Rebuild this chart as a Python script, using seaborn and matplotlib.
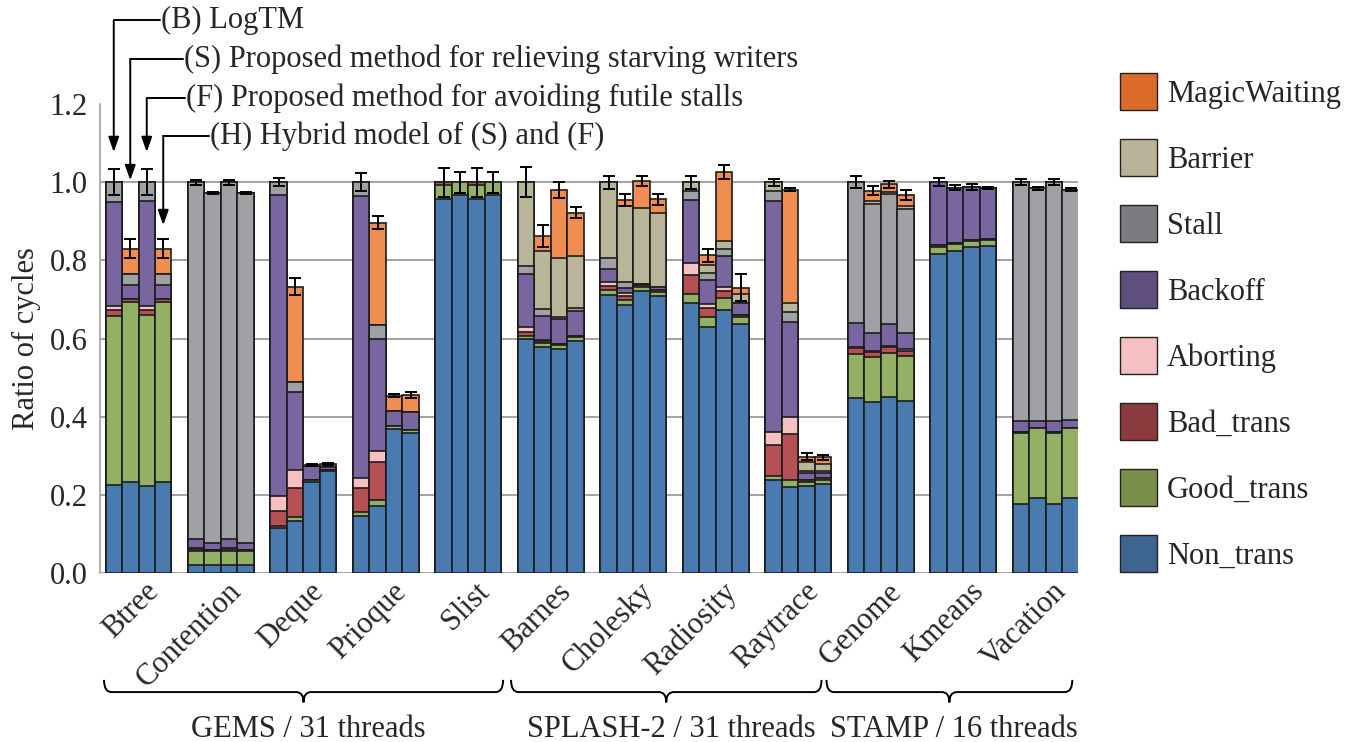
import seaborn as sns
import matplotlib.pyplot as plt
import matplotlib.transforms as mtransforms
from matplotlib.path import Path
from matplotlib.patches import PathPatch, Patch
import pandas as pd

# four bars per benchmark: (B) LogTM, (S), (F), (H)
benchmarks = ["Btree", "Contention", "Deque", "Prioque", "Slist",
              "Barnes", "Cholesky", "Radiosity", "Raytrace",
              "Genome", "Kmeans", "Vacation"]
suites = ["GEMS / 31 threads", "SPLASH-2 / 31 threads", "STAMP / 16 threads"]

non_trans = [
    .226, .232, .223, .232,   # Btree
    .021, .021, .021, .021,   # Contention
    .115, .134, .234, .260,   # Deque
    .147, .172, .368, .359,   # Prioque
    .957, .967, .957, .967,   # Slist
    .599, .579, .573, .594,   # Barnes
    .711, .687, .721, .709,   # Cholesky
    .692, .630, .673, .637,   # Radiosity
    .237, .221, .223, .227,   # Raytrace
    .447, .437, .450, .441,   # Genome
    .816, .825, .833, .837,   # Kmeans
    .177, .192, .177, .193,   # Vacation
]
good_trans = [
    .432, .462, .436, .462,
    .034, .034, .034, .034,
    .006, .009, .004, .004,
    .009, .015, .008, .007,
    .035, .033, .035, .033,
    .007, .009, .010, .009,
    .012, .011, .012, .011,
    .021, .026, .030, .019,
    .012, .017, .011, .012,
    .113, .115, .114, .113,
    .017, .017, .017, .016,
    .181, .179, .181, .178,
]
bad_trans = [
    .015, .006, .014, .006,
    .006, .003, .006, .003,
    .038, .074, 0, 0,
    .061, .098, 0, 0,
    .008, 0, .008, 0,
    .010, .005, .002, .003,
    .011, .012, .003, .004,
    .049, .021, .018, .003,
    .079, .118, .003, .003,
    .015, .014, .014, .015,
    .006, .002, .002, .002,
    .002, 0, .002, 0,
]
aborting = [
    .011, 0, .011, 0,
    .003, 0, .003, 0,
    .039, .047, 0, 0,
    .026, .028, 0, 0,
    0, 0, 0, 0,
    .014, .003, 0, 0,
    .010, .006, 0, 0,
    .030, .011, .010, 0,
    .032, .043, 0, 0,
    .004, .003, .004, .003,
    0, 0, 0, 0,
    0, 0, 0, 0,
]
backoff = [
    .266, .038, .267, .038,
    .024, .019, .024, .019,
    .769, .199, .035, .008,
    .721, .286, .038, .047,
    0, 0, 0, 0,
    .134, .062, .065, .064,
    .033, .012, .003, .007,
    .162, .062, .081, .031,
    .592, .242, .020, .014,
    .060, .044, .054, .043,
    .161, .142, .136, .130,
    .030, .019, .030, .021,
]
stall = [
    .050, .028, .049, .028,
    .912, .896, .912, .896,
    .033, .026, 0, 0,
    .036, .036, 0, 0,
    0, 0, 0, 0,
    .021, .017, .006, .009,
    .030, .017, 0, 0,
    .023, .017, .017, .002,
    .026, .028, .003, .004,
    .361, .332, .333, .316,
    0, 0, 0, 0,
    .610, .594, .610, .589,
]
barrier = [
    0, 0, 0, 0,
    0, 0, 0, 0,
    0, 0, 0, 0,
    0, 0, 0, 0,
    0, 0, 0, 0,
    .215, .149, .151, .132,
    .193, .194, .194, .189,
    .023, .021, .021, .021,
    .022, .021, .025, .019,
    0, .007, .005, .008,
    0, 0, 0, 0,
    0, 0, 0, 0,
]
magic_waiting = [
    0, .064, 0, .064,
    0, 0, 0, 0,
    0, .244, .003, .007,
    0, .261, .040, .043,
    0, 0, 0, 0,
    0, .038, .173, .111,
    0, .015, .070, .036,
    0, .025, .176, .017,
    0, .291, .013, .017,
    0, .026, .021, .029,
    0, 0, 0, 0,
    0, 0, 0, 0,
]
errors = [
    .033, .024, .033, .024,
    .006, .003, .006, .003,
    .010, .021, .002, .003,
    .023, .017, .004, .007,
    .037, .027, .037, .027,
    .039, .029, .020, .014,
    .017, .015, .013, .014,
    .017, .017, .018, .035,
    .009, .003, .009, .006,
    .015, .012, .009, .013,
    .011, .007, .007, .003,
    .008, .003, .008, .003,
]

layers = ["Non_trans", "Good_trans", "Bad_trans", "Aborting",
          "Backoff", "Stall", "Barrier", "MagicWaiting"]
layer_values = [non_trans, good_trans, bad_trans, aborting,
                backoff, stall, barrier, magic_waiting]
bar_colors = ["#4a7bb0", "#93b065", "#b75054", "#f7c1c1",
              "#7965a0", "#a0a1a4", "#b9b598", "#ef8e50"]
legend_colors = ["#3e6590", "#7a8f4a", "#8b3a3e", "#f6bfc2",
                 "#5f4f7c", "#7a7c80", "#b8b398", "#dc6b2a"]

pos = [g * 5 + b for g in range(len(benchmarks)) for b in range(4)]
df = pd.DataFrame({"pos": pos})
for name, vals in zip(layers, layer_values):
    df[name] = vals
cum = df[layers].cumsum(axis=1)
df["err"] = errors

sns.set_style("white")
plt.rcParams["font.family"] = ["Liberation Serif", "DejaVu Serif"]
FS = 22

fig = plt.figure(figsize=(13.54, 7.42), dpi=100)
ax = fig.add_axes([0.0739, 0.2278, 0.7222, 0.632])

# stacked bars: draw cumulative tops from highest layer down
for name, col in reversed(list(zip(layers, bar_colors))):
    sns.barplot(x=df["pos"], y=cum[name], native_scale=True, width=1.0,
                color=col, saturation=1, edgecolor="#1c1c1c", linewidth=1.2,
                errorbar=None, ax=ax)

ax.errorbar(df["pos"], cum["MagicWaiting"], yerr=df["err"], fmt="none",
            ecolor="black", elinewidth=1.4, capsize=4.5, capthick=1.4, zorder=5)

ax.set_axisbelow(True)
ax.set_ylim(0, 1.2)
ax.set_xlim(-0.83, 58.44)
ax.set_yticks([0, 0.2, 0.4, 0.6, 0.8, 1.0, 1.2])
ax.set_yticklabels(["0.0", "0.2", "0.4", "0.6", "0.8", "1.0", "1.2"], fontsize=FS)
ax.yaxis.grid(True, color="#a3a3a3", linewidth=1.4)
ax.yaxis.get_gridlines()[-1].set_visible(False)
ax.tick_params(axis="y", length=6, width=1.0, color="#888888", pad=3)
ax.set_ylabel("Ratio of cycles", fontsize=FS, labelpad=6)
ax.set_xlabel("")
for s in ["top", "right", "bottom"]:
    ax.spines[s].set_visible(False)
ax.spines["left"].set_color("#a3a3a3")
ax.spines["left"].set_linewidth(1.2)

centers = [g * 5 + 1.5 + 0.35 for g in range(len(benchmarks))]
ax.set_xticks(centers)
ax.set_xticklabels(benchmarks, rotation=45, ha="right", va="top",
                   rotation_mode="anchor", fontsize=FS)
ax.tick_params(axis="x", length=0, pad=3)

# curly braces for the benchmark suites
trans = mtransforms.blended_transform_factory(ax.transData, ax.transAxes)
brace_spans = [(-0.59, 23.6), (24.08, 42.9), (43.2, 58.1)]
y_top, y_mid, y_tip = -0.228, -0.254, -0.276
r = 0.45
for (x0, x1), txt in zip(brace_spans, suites):
    xc = (x0 + x1) / 2
    verts = [(x0, y_top), (x0, y_mid), (x0 + r, y_mid),
             (xc - r, y_mid),
             (xc, y_mid), (xc, y_tip),
             (xc, y_mid), (xc + r, y_mid),
             (x1 - r, y_mid),
             (x1, y_mid), (x1, y_top)]
    codes = [Path.MOVETO, Path.CURVE3, Path.CURVE3,
             Path.LINETO,
             Path.CURVE3, Path.CURVE3,
             Path.CURVE3, Path.CURVE3,
             Path.LINETO,
             Path.CURVE3, Path.CURVE3]
    ax.add_patch(PathPatch(Path(verts, codes), transform=trans, fill=False,
                           lw=1.4, edgecolor="black", clip_on=False))
    ax.text(xc + 0.3, -0.333, txt, transform=trans, ha="center", va="center",
            fontsize=FS)

# annotations for the four configurations
notes = ["(B) LogTM",
         "(S) Proposed method for relieving starving writers",
         "(F) Proposed method for avoiding futile stalls",
         "(H) Hybrid model of (S) and (F)"]
note_x = [2.8, 4.2, 4.3, 5.8]
note_y = [1.414, 1.314, 1.215, 1.117]
tip_y = [1.077, 1.005, 1.077, 0.890]
for i, (t, tx, ty, tip) in enumerate(zip(notes, note_x, note_y, tip_y)):
    ax.plot([i, tx], [ty, ty], color="black", lw=1.4, clip_on=False)
    ax.annotate("", xy=(i, tip), xytext=(i, ty),
                arrowprops=dict(arrowstyle="-|>,head_length=0.9,head_width=0.32",
                                color="black", lw=1.4, shrinkA=0, shrinkB=0),
                annotation_clip=False)
    ax.text(tx + 0.05, ty, t, ha="left", va="center", fontsize=FS)

handles = [Patch(facecolor=c, edgecolor="#222222", linewidth=1.0, label=l)
           for l, c in zip(layers, legend_colors)][::-1]
fig.legend(handles=handles, loc="upper left", bbox_to_anchor=(0.818, 0.918),
           frameon=False, fontsize=FS, handlelength=1.21, handleheight=1.486,
           labelspacing=0.95, handletextpad=0.33, borderaxespad=0)

plt.savefig("out.png", dpi=100)
